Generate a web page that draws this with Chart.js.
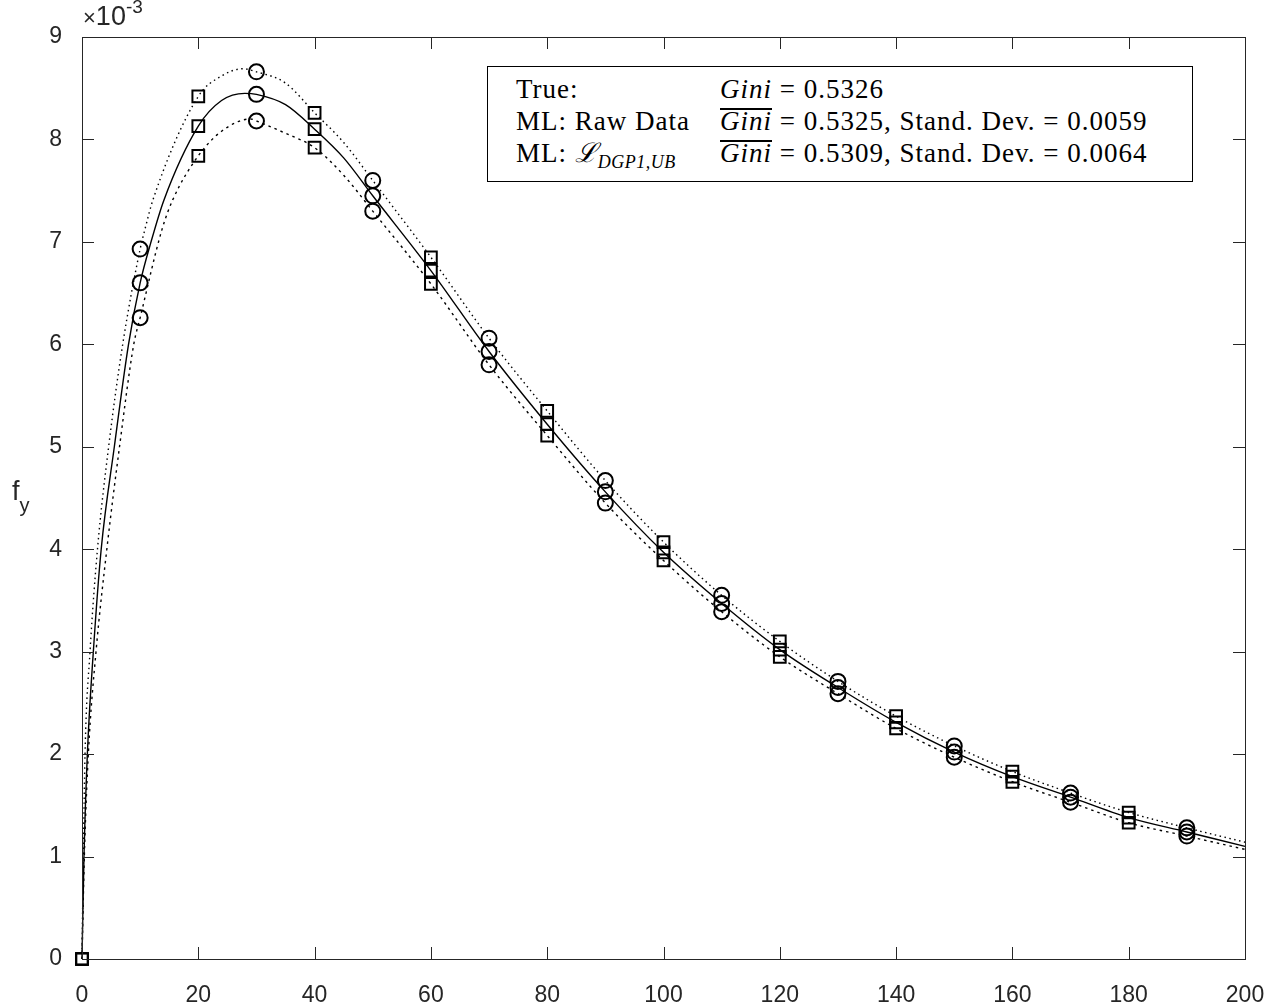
<!DOCTYPE html>
<html>
<head>
<meta charset="utf-8">
<script src="https://cdn.jsdelivr.net/npm/chart.js@4.4.1/dist/chart.umd.min.js"></script>
<style>
  body { margin: 0; background: #fff; }
  #wrap { position: relative; width: 1280px; height: 1004px; }
  #plot { position: absolute; left: 0; top: 0; }
  .lbl { position: absolute; font-family: "Liberation Sans", Arial, sans-serif; color: #262626; white-space: nowrap; }
  #legend { position: absolute; left: 487px; top: 66px; width: 704px; height: 114px; border: 1px solid #000;
            background: #fff; font-family: "Liberation Serif", "Times New Roman", serif; font-size: 27px;
            letter-spacing: 1px; color: #000; }
  #legend .row { position: absolute; height: 32px; line-height: 32px; white-space: nowrap; }
  #legend i { font-style: italic; }
  .bar { display: inline-block; border-top: 2px solid #000; line-height: 22px; }
  .sub { font-size: 18px; font-style: italic; position: relative; top: 6px; letter-spacing: 0.5px; }
</style>
</head>
<body>
<div id="wrap">
  <canvas id="plot" width="1280" height="1004"></canvas>
  <div class="lbl" style="left:83px;top:1px;font-size:27px;"><span style="font-size:22px">&times;</span>10<span style="font-size:19px;position:relative;top:-12px">-3</span></div>
  <div class="lbl" style="left:12px;top:476px;font-size:27px;">f<span style="font-size:20px;position:relative;top:12px;">y</span></div>
  <div id="legend">
    <div class="row" style="left:28px;top:6px;">True:</div>
    <div class="row" style="left:232px;top:6px;"><i>Gini</i> = 0.5326</div>
    <div class="row" style="left:28px;top:38px;">ML: Raw Data</div>
    <div class="row" style="left:232px;top:38px;"><span class="bar"><i>Gini</i></span> = 0.5325, Stand. Dev. = 0.0059</div>
    <div class="row" style="left:28px;top:70px;">ML: <i>&#x2112;</i><span class="sub">DGP1,UB</span></div>
    <div class="row" style="left:232px;top:70px;"><span class="bar"><i>Gini</i></span> = 0.5309, Stand. Dev. = 0.0064</div>
  </div>
</div>
<script>
// density values are in units of 1e-3
const trueX = [0, 0.34, 0.92, 1.95, 3.3, 5.56, 8.0, 10, 11.87, 14.1, 20, 24, 28, 30, 35, 40, 45, 50,
               60, 70, 80, 90, 100, 110, 120, 130, 140, 150, 160, 170, 180, 190, 200];
const trueY = [0, 1, 2, 3, 4, 5, 6, 6.60, 7.0, 7.41, 8.13, 8.38, 8.45, 8.44, 8.34, 8.10, 7.82, 7.45,
               6.72, 5.93, 5.22, 4.56, 3.97, 3.47, 3.02, 2.65, 2.31, 2.02, 1.78, 1.58, 1.38, 1.24, 1.10];

const rawX = [0, 0.23, 0.52, 1.38, 2.66, 4.58, 7.0, 10, 10.9, 12.2, 20, 24, 27.7, 30, 35, 40, 45, 50,
              60, 70, 80, 90, 100, 110, 120, 130, 140, 150, 160, 170, 180, 190, 200];
const rawY = [0, 1, 2, 3, 4, 5, 6, 6.93, 7.14, 7.41, 8.42, 8.62, 8.69, 8.66, 8.55, 8.26, 7.97, 7.60,
              6.85, 6.06, 5.35, 4.67, 4.07, 3.55, 3.10, 2.71, 2.37, 2.08, 1.83, 1.62, 1.43, 1.28, 1.14];

const ubX = [0, 0.4, 1.09, 2.41, 4.27, 6.45, 8.9, 10, 13.75, 15.6, 20, 24, 29, 30, 35, 40, 45, 50,
             60, 70, 80, 90, 100, 110, 120, 130, 140, 150, 160, 170, 180, 190, 200];
const ubY = [0, 1, 2, 3, 4, 5, 6, 6.26, 7.12, 7.41, 7.84, 8.08, 8.20, 8.18, 8.06, 7.92, 7.65, 7.30,
             6.59, 5.80, 5.11, 4.45, 3.89, 3.39, 2.95, 2.59, 2.25, 1.97, 1.73, 1.53, 1.33, 1.20, 1.07];

const xTicks = [0, 20, 40, 60, 80, 100, 120, 140, 160, 180, 200];
const yTicks = [0, 1, 2, 3, 4, 5, 6, 7, 8, 9];

const axisColor = '#262626';

function isMarker(x) {
    return x % 10 === 0 && x < 200;
}

function curve(xs, ys, dash) {
    return {
        data: xs.map((x, i) => ({x: x, y: ys[i]})),
        borderColor: '#000',
        borderWidth: 1.4,
        borderDash: dash,
        cubicInterpolationMode: 'monotone',
        clip: false,
        pointStyle: ctx => (ctx.raw && (ctx.raw.x / 10) % 2 === 1) ? 'circle' : 'rect',
        pointRadius: ctx => {
            if (!ctx.raw || !isMarker(ctx.raw.x)) return 0;
            return (ctx.raw.x / 10) % 2 === 1 ? 7.5 : 8.3;
        },
        pointBorderWidth: 2,
        pointBorderColor: '#000',
        pointBackgroundColor: 'rgba(0,0,0,0)',
        pointHoverRadius: 0
    };
}

// MATLAB-like box with inward ticks on all four sides
const boxTicks = {
    id: 'boxTicks',
    afterDatasetsDraw(chart) {
        const {ctx, chartArea: a, scales} = chart;
        const len = 12;
        ctx.save();
        ctx.strokeStyle = axisColor;
        ctx.lineWidth = 1;
        ctx.beginPath();
        xTicks.forEach(v => {
            const px = Math.round(scales.x.getPixelForValue(v)) + 0.5;
            ctx.moveTo(px, a.bottom); ctx.lineTo(px, a.bottom - len);
            ctx.moveTo(px, a.top); ctx.lineTo(px, a.top + len);
        });
        yTicks.forEach(v => {
            const py = Math.round(scales.y.getPixelForValue(v)) + 0.5;
            ctx.moveTo(a.left, py); ctx.lineTo(a.left + len, py);
            ctx.moveTo(a.right, py); ctx.lineTo(a.right - len, py);
        });
        ctx.stroke();
        ctx.strokeRect(a.left + 0.5, a.top + 0.5, a.right - a.left, a.bottom - a.top);
        ctx.restore();
    }
};

new Chart(document.getElementById('plot').getContext('2d'), {
    type: 'line',
    data: {
        datasets: [
            curve(trueX, trueY, []),
            curve(rawX, rawY, [1.5, 3.5]),
            curve(ubX, ubY, [2.5, 4])
        ]
    },
    options: {
        responsive: false,
        animation: false,
        events: [],
        layout: { padding: { top: 37, right: 35, left: 0, bottom: 0 } },
        scales: {
            x: {
                type: 'linear',
                min: 0, max: 200,
                afterBuildTicks: s => { s.ticks = xTicks.map(v => ({value: v})); },
                afterFit: s => { s.height = 45; },
                grid: { display: false },
                border: { display: false },
                ticks: { color: axisColor, padding: 15, maxRotation: 0,
                         font: { family: 'Liberation Sans', size: 23 } }
            },
            y: {
                type: 'linear',
                min: 0, max: 9,
                afterBuildTicks: s => { s.ticks = yTicks.map(v => ({value: v})); },
                afterFit: s => { s.width = 82; },
                grid: { display: false },
                border: { display: false },
                ticks: { color: axisColor, padding: 12,
                         font: { family: 'Liberation Sans', size: 23 } }
            }
        },
        plugins: {
            legend: { display: false },
            tooltip: { enabled: false }
        }
    },
    plugins: [boxTicks]
});
</script>
</body>
</html>
